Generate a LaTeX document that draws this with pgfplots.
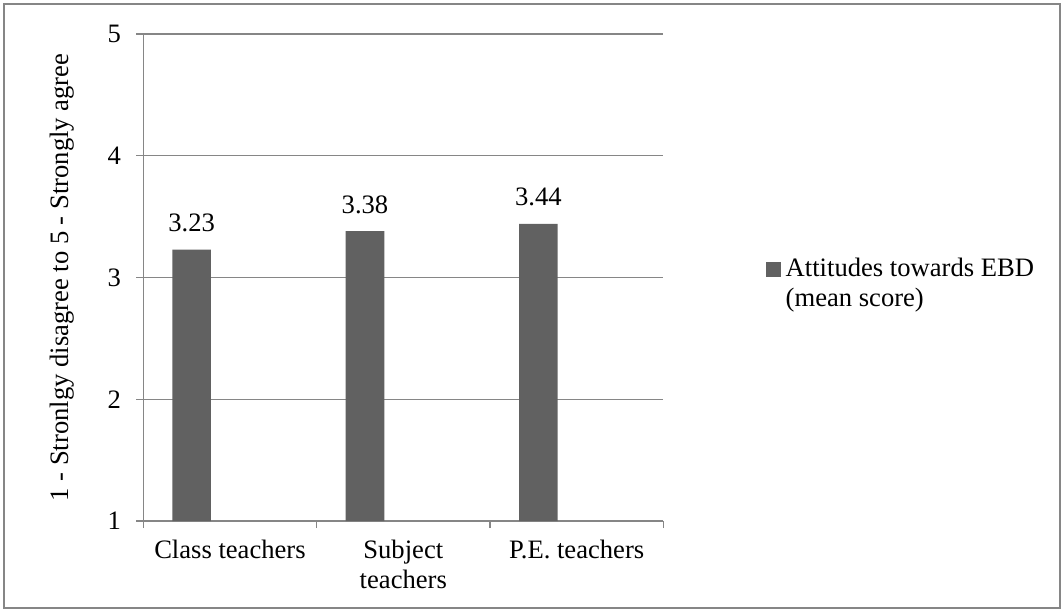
\documentclass[border=0pt]{standalone}
\usepackage{fontspec}
\setmainfont{Liberation Serif}
\usepackage{pgfplots}
\pgfplotsset{compat=1.18}
\definecolor{gridgray}{RGB}{134,134,134}
\definecolor{bargray}{RGB}{97,97,97}
\begin{document}
\fontsize{13.3}{15}\selectfont
\begin{tikzpicture}[font=\fontsize{13.3}{15}\selectfont]
\useasboundingbox (-71.65pt,-45.5pt) rectangle (460.35pt,260.5pt);
\draw[gridgray, line width=0.75pt] (-69.65pt,-43.5pt) rectangle (458.35pt,258.5pt);
\begin{axis}[
  at={(0,0)}, anchor=south west, scale only axis,
  width=260pt, height=243.5pt,
  xmin=-0.5, xmax=2.5, ymin=1, ymax=5,
  /pgf/number format/assume math mode=true,
  axis x line=bottom, axis y line=left,
  axis line style={gridgray, line width=0.6pt, -},
  tick align=outside, major tick length=3.5pt,
  tick style={gridgray, line width=0.6pt},
  xtick={-0.5,0.5,1.5,2.5}, x tick label as interval,
  xticklabels={Class teachers, {Subject\\teachers}, P.E. teachers},
  x tick label style={align=center, anchor=north, yshift=-1.5pt},
  ytick={1,2,3,4,5},
  y tick label style={xshift=-3pt},
  ymajorgrids, grid style={gridgray, line width=0.6pt},
  ylabel={1 - Stronlgy disagree to 5 - Strongly agree},
  ylabel style={at={(axis description cs:-0.1563,0.5)}, anchor=center},
  legend style={draw=none, fill=none, at={(axis description cs:1.197,0.5448)}, anchor=north west,
    inner sep=0pt, outer sep=0pt, column sep=2.5pt, cells={anchor=base west}, nodes={inner sep=0pt}},
  legend image code/.code={\fill[#1] (0pt,0pt) rectangle (7.5pt,7.5pt);},
]
\addplot[ybar, fill=bargray, draw=none, bar width=0.223, bar shift=-0.221,
  nodes near coords,
  nodes near coords style={text=black, anchor=base, inner sep=0pt, yshift=9pt, xshift=-19.15pt,
    /pgf/number format/.cd, fixed, precision=2, fixed zerofill}]
  coordinates {(0,3.23) (1,3.38) (2,3.44)};
\addlegendentry{\begin{tabular}[t]{@{}l@{}}Attitudes towards EBD\\(mean score)\end{tabular}}
\end{axis}
\end{tikzpicture}
\end{document}
